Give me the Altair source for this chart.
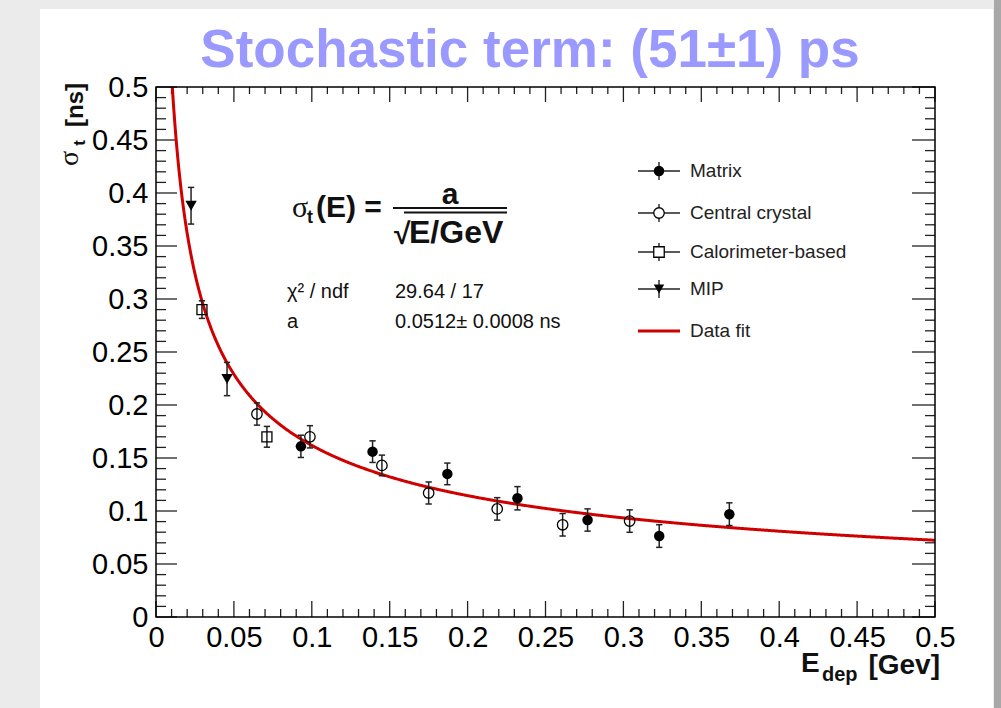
import altair as alt
import pandas as pd

# ---------------- data ----------------
matrix_E = [0.093, 0.139, 0.187, 0.232, 0.277, 0.323, 0.368]
matrix_s = [0.161, 0.156, 0.135, 0.112, 0.0915, 0.0764, 0.097]
matrix_err = [0.0105, 0.0102, 0.0102, 0.011, 0.0105, 0.0107, 0.0107]

central_E = [0.0648, 0.0988, 0.145, 0.175, 0.219, 0.261, 0.304]
central_s = [0.1915, 0.170, 0.143, 0.117, 0.102, 0.087, 0.0905]
central_err = [0.0105, 0.0105, 0.0097, 0.0104, 0.0106, 0.0106, 0.0106]

calo_E = [0.0295, 0.0712]
calo_s = [0.290, 0.170]
calo_err = [0.0083, 0.0098]

mip_E = [0.0225, 0.0456]
mip_s = [0.388, 0.2245]
mip_err = [0.0173, 0.0157]

fit_a = 0.0512

major_ticks = [0, 0.05, 0.1, 0.15, 0.2, 0.25, 0.3, 0.35, 0.4, 0.45, 0.5]
minor_ticks = [round(i * 0.01, 2) for i in range(51) if i % 5 != 0]

legend_names = ["Matrix", "Central crystal", "Calorimeter-based", "MIP", "Data fit"]

# ---------------- layout ----------------
W, H = 779, 530
PAD_L, PAD_T = 156, 87
FONT = "Liberation Sans, Arial, Helvetica, sans-serif"

xs = alt.Scale(domain=[0, 0.5], nice=False, zero=False)
ys = alt.Scale(domain=[0, 0.5], nice=False, zero=False)
ax_x = alt.Axis(values=major_ticks, format="~g", labelFontSize=29, labelFont=FONT,
                labelColor="black", ticks=False, tickSize=0, domain=False, grid=False,
                labelPadding=6, title=None, labelFlush=False, labelOverlap=False, zindex=1)
ax_y = alt.Axis(values=major_ticks, format="~g", labelFontSize=29, labelFont=FONT,
                labelColor="black", ticks=False, tickSize=0, domain=False, grid=False,
                labelPadding=8, title=None, labelFlush=False, labelOverlap=False, zindex=1)


def X(f):
    return alt.X(f + ":Q", scale=xs, axis=ax_x)


def Y(f):
    return alt.Y(f + ":Q", scale=ys, axis=ax_y)


one = pd.DataFrame({"k": [0]})
layers = []

# page background: white panel and right strip
layers.append(alt.Chart(one).mark_rect(color="white").encode(
    x=alt.value(40 - PAD_L), x2=alt.value(993 - PAD_L),
    y=alt.value(9 - PAD_T), y2=alt.value(708 - PAD_T)))
layers.append(alt.Chart(one).mark_rect(color="#a8a8a8").encode(
    x=alt.value(994 - PAD_L), x2=alt.value(1001 - PAD_L),
    y=alt.value(0 - PAD_T), y2=alt.value(708 - PAD_T)))

# ticks (ROOT style, inward, on all four sides)
tmaj = pd.DataFrame({"v": major_ticks})
tmin = pd.DataFrame({"v": minor_ticks})
tick_style = dict(color="#222", strokeWidth=1.3)
layers += [
    alt.Chart(tmaj).mark_rule(**tick_style).encode(x=X("v"), y=alt.value(H), y2=alt.value(H - 16)),
    alt.Chart(tmin).mark_rule(**tick_style).encode(x=X("v"), y=alt.value(H), y2=alt.value(H - 8)),
    alt.Chart(tmaj).mark_rule(**tick_style).encode(x=X("v"), y=alt.value(0), y2=alt.value(15)),
    alt.Chart(tmin).mark_rule(**tick_style).encode(x=X("v"), y=alt.value(0), y2=alt.value(7)),
    alt.Chart(tmaj).mark_rule(**tick_style).encode(y=Y("v"), x=alt.value(0), x2=alt.value(21)),
    alt.Chart(tmin).mark_rule(**tick_style).encode(y=Y("v"), x=alt.value(0), x2=alt.value(10)),
    alt.Chart(tmaj).mark_rule(**tick_style).encode(y=Y("v"), x=alt.value(W), x2=alt.value(W - 23)),
    alt.Chart(tmin).mark_rule(**tick_style).encode(y=Y("v"), x=alt.value(W), x2=alt.value(W - 10)),
]

# fit curve
fit = (alt.Chart(alt.sequence(0.01049, 0.5003, 0.0005, as_="E"))
       .transform_calculate(s=f"{fit_a} / sqrt(datum.E)")
       .mark_line(color="#d00000", strokeWidth=3)
       .encode(x=X("E"), y=Y("s")))
layers.append(fit)

CAP = "M -1 0 L 1 0"


def series(E, s, err, shape, filled, size):
    df = pd.DataFrame({"E": E, "s": s, "err": err})
    base = alt.Chart(df).transform_calculate(lo="datum.s - datum.err", hi="datum.s + datum.err")
    out = [
        base.mark_rule(color="#222", strokeWidth=1.5).encode(x=X("E"), y=Y("lo"), y2=alt.Y2("hi:Q")),
        base.mark_point(shape=CAP, size=40, color="#222", strokeWidth=1.5, opacity=1).encode(x=X("E"), y=Y("lo")),
        base.mark_point(shape=CAP, size=40, color="#222", strokeWidth=1.5, opacity=1).encode(x=X("E"), y=Y("hi")),
        base.mark_point(shape=shape, filled=filled, size=size, color="black", strokeWidth=1.3,
                        opacity=1).encode(x=X("E"), y=Y("s")),
    ]
    return out


layers += series(matrix_E, matrix_s, matrix_err, "circle", True, 110)
layers += series(central_E, central_s, central_err, "circle", False, 110)
layers += series(calo_E, calo_s, calo_err, "square", False, 100)
layers += series(mip_E, mip_s, mip_err, "triangle-down", True, 130)

# frame
layers.append(alt.Chart(one).mark_rect(fill=None, stroke="black", strokeWidth=1.5).encode(
    x=alt.value(0), x2=alt.value(W), y=alt.value(0), y2=alt.value(H)))


def txt(text, x, y, size, weight="normal", font=FONT, align="left",
        baseline="alphabetic", color="#111", angle=0):
    return alt.Chart(one).mark_text(text=text, align=align, baseline=baseline, fontSize=size,
                                     fontWeight=weight, font=font, color=color,
                                     angle=angle).encode(x=alt.value(x), y=alt.value(y))


# title
layers.append(txt("Stochastic term: (51\u00b11) ps", 530 - PAD_L, 67 - PAD_T, 53, "bold",
                  align="center", color="#9999ff"))

# formula
layers.append(txt("\u03c3", 292 - PAD_L, 217 - PAD_T, 30, font="Liberation Serif, serif"))
layers.append(txt("t", 307 - PAD_L, 223 - PAD_T, 18, "bold"))
layers.append(txt("(E) =", 316 - PAD_L, 217 - PAD_T, 30, "bold"))
layers.append(txt("a", 450 - PAD_L, 204 - PAD_T, 30, "bold", align="center"))
layers.append(alt.Chart(one).mark_rule(color="#111", strokeWidth=2).encode(
    x=alt.value(393 - PAD_L), x2=alt.value(507 - PAD_L), y=alt.value(208 - PAD_T)))
layers.append(alt.Chart(one).mark_rule(color="#111", strokeWidth=2).encode(
    x=alt.value(404 - PAD_L), x2=alt.value(507 - PAD_L), y=alt.value(212.5 - PAD_T)))
layers.append(txt("\u221a", 394 - PAD_L, 244 - PAD_T, 30, "bold"))
layers.append(txt("E/GeV", 409 - PAD_L, 243 - PAD_T, 32, "bold"))

# fit statistics
layers.append(txt("\u03c7\u00b2 / ndf", 287 - PAD_L, 298 - PAD_T, 20))
layers.append(txt("29.64 / 17", 395 - PAD_L, 298 - PAD_T, 20))
layers.append(txt("a", 287 - PAD_L, 328 - PAD_T, 20))
layers.append(txt("0.0512\u00b1 0.0008 ns", 395 - PAD_L, 328 - PAD_T, 20))

# legend
leg_y = [171, 213, 252, 289, 331]
mk_x = 659 - PAD_L
for name, yy in zip(legend_names, leg_y):
    y = yy - PAD_T
    if name == "Data fit":
        layers.append(alt.Chart(one).mark_rule(color="#d00000", strokeWidth=3).encode(
            x=alt.value(638 - PAD_L), x2=alt.value(680 - PAD_L), y=alt.value(y)))
    else:
        layers.append(alt.Chart(one).mark_rule(color="#222", strokeWidth=1.4).encode(
            x=alt.value(638 - PAD_L), x2=alt.value(680 - PAD_L), y=alt.value(y)))
        layers.append(alt.Chart(one).mark_rule(color="#222", strokeWidth=1.4).encode(
            x=alt.value(mk_x), y=alt.value(y - 9), y2=alt.value(y + 9)))
        shape, filled = {"Matrix": ("circle", True), "Central crystal": ("circle", False),
                         "Calorimeter-based": ("square", False), "MIP": ("triangle-down", True)}[name]
        layers.append(alt.Chart(one).mark_point(shape=shape, filled=filled, size=110,
                                                color="black", strokeWidth=1.3, opacity=1,
                                                fill="white" if not filled else "black").encode(
            x=alt.value(mk_x), y=alt.value(y)))
    layers.append(txt(name, 690 - PAD_L, y, 19, baseline="middle", color="#222"))

# axis titles
layers.append(txt("E", 801 - PAD_L, 672 - PAD_T, 28, "bold"))
layers.append(txt("dep", 822 - PAD_L, 681 - PAD_T, 20, "bold"))
layers.append(txt("[Gev]", 940 - PAD_L, 674 - PAD_T, 28, "bold", align="right"))
layers.append(txt("[ns]", 83 - PAD_L, 83 - PAD_T, 24, "bold", align="right", angle=270))
layers.append(txt("t", 85 - PAD_L, 140 - PAD_T, 17, "bold", align="right", angle=270))
layers.append(txt("\u03c3", 78 - PAD_L, 151 - PAD_T, 28, font="Liberation Serif, serif",
                  align="right", angle=270))

chart = alt.layer(*layers).properties(
    width=W, height=H,
    autosize=alt.AutoSizeParams(type="none"),
    padding={"left": PAD_L, "top": PAD_T, "right": 1001 - PAD_L - W, "bottom": 708 - PAD_T - H},
    background="#ebebeb",
).configure_view(stroke=None)

chart.save("out.html", embed_options={"renderer": "svg", "actions": False})
